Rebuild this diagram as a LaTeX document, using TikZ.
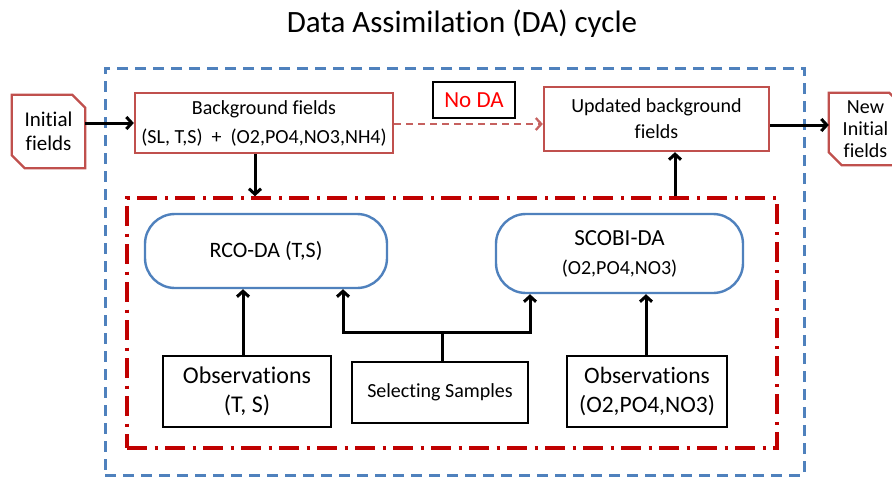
\documentclass[tikz,border=0pt]{standalone}
\usepackage{fontspec}
\setmainfont{Carlito}[Ligatures=NoCommon]
\usetikzlibrary{arrows.meta}
\definecolor{boxred}{HTML}{C0504D}
\definecolor{frameblue}{HTML}{4F81BD}
\definecolor{loopred}{HTML}{C00000}
\definecolor{labelred}{HTML}{FF0000}
\begin{document}
\begin{tikzpicture}[x=1pt,y=-1pt,
  arr/.style={line width=3pt,-{Straight Barb[length=5.5pt,width=12pt]}},
  redbox/.style={draw=boxred,line width=2.3pt,fill=white,inner sep=0pt,align=center},
  blackbox/.style={draw=black,line width=2.6pt,fill=white,inner sep=0pt,align=center},
  pill/.style={draw=frameblue,line width=2.4pt,fill=white,rounded corners=30pt,inner sep=0pt,align=center},
  snip/.style={draw=none,inner sep=0pt,align=center},
  outer/.style={draw=frameblue,line width=3pt,dash pattern=on 11pt off 7pt,inner sep=0pt},
  inner/.style={draw=loopred,line width=3.5pt,dash pattern=on 20pt off 7.5pt on 3pt off 7.5pt,inner sep=0pt}]
\useasboundingbox (0,0) rectangle (892,477);
\fill[white] (0,0) rectangle (892,477);
\clip (0,0) rectangle (892,477);

% title
\node[font=\fontsize{31}{36}\selectfont] (title) at (462,24) {Data Assimilation (DA) cycle};

% frames
\node[outer,minimum width=699pt,minimum height=407pt] (cycle) at (454.5,271.5) {};
\node[inner,minimum width=650pt,minimum height=250pt] (daloop) at (452,323) {};

% initial and new initial fields (snipped corners)
\node[snip,font=\fontsize{21}{24}\selectfont,minimum width=73pt,minimum height=73pt] (init) at (48.5,131.5) {Initial\\fields};
\draw[boxred,line width=2.3pt] (init.north west) -- ([xshift=-13pt]init.north east)
  -- ([yshift=-13pt]init.north east) -- (init.south east)
  -- ([xshift=13pt]init.south west) -- ([yshift=13pt]init.south west) -- cycle;

\node[snip,font=\fontsize{20}{22}\selectfont,minimum width=73pt,minimum height=72pt] (newinit) at (865.5,129) {New\\Initial\\fields};
\draw[boxred,line width=2.3pt] (newinit.north west) -- ([xshift=-13pt]newinit.north east)
  -- ([yshift=-13pt]newinit.north east) -- (newinit.south east)
  -- ([xshift=13pt]newinit.south west) -- ([yshift=13pt]newinit.south west) -- cycle;

% background and updated fields
\node[redbox,font=\fontsize{20}{29}\selectfont,minimum width=258pt,minimum height=60pt] (bg) at (264,123)
  {Background fields\\(SL, T,S)\ \ +\ \ (O2,PO4,NO3,NH4)};
\node[redbox,font=\fontsize{20}{26}\selectfont,minimum width=225pt,minimum height=64pt] (upd) at (656.5,119)
  {Updated background\\fields};
\node[blackbox,font=\fontsize{23}{28}\selectfont,text=labelred,minimum width=82pt,minimum height=36pt] (noda) at (474,100) {No DA};

% assimilation schemes
\node[pill,font=\fontsize{22}{28}\selectfont,minimum width=242pt,minimum height=74pt] (rco) at (266,251) {RCO-DA (T,S)};
\node[pill,font=\fontsize{20}{29}\selectfont,minimum width=247pt,minimum height=79pt] (scobi) at (619.5,253.5)
  {{\fontsize{23}{29}\selectfont SCOBI-DA}\\(O2,PO4,NO3)};

% observations and sampling
\node[blackbox,font=\fontsize{24}{29}\selectfont,minimum width=168pt,minimum height=71pt] (obsts) at (247,391.5) {Observations\\(T, S)};
\node[blackbox,font=\fontsize{20}{26}\selectfont,minimum width=176pt,minimum height=61pt] (sel) at (440,392.5) {Selecting Samples};
\node[blackbox,font=\fontsize{23.5}{29}\selectfont,minimum width=160pt,minimum height=71pt] (obso2) at (647,391.5) {Observations\\(O2,PO4,NO3)};

% connectors
\draw[arr] (init.east |- 0,123) -- (bg.west |- 0,123);
\draw[arr] (upd.east |- 0,125) -- (newinit.west |- 0,125);
\draw[boxred!90,line width=2.3pt,dash pattern=on 7pt off 5pt,-{Straight Barb[length=5.5pt,width=12pt]}]
  (bg.east |- 0,124) -- (upd.west |- 0,124);
\draw[arr] (255,0 |- bg.south) -- (255,0 |- daloop.north);
\draw[arr] (675,0 |- daloop.north) -- (675,0 |- upd.south);
\draw[arr] (243,0 |- obsts.north) -- (243,0 |- rco.south);
\draw[arr] (646,0 |- obso2.north) -- (646,0 |- scobi.south);
\coordinate (fork) at (442,332);
\draw[arr] (442,0 |- sel.north) -- (fork) -| (343,0 |- rco.south);
\draw[arr] (fork) -| (530,0 |- scobi.south);
\end{tikzpicture}
\end{document}
